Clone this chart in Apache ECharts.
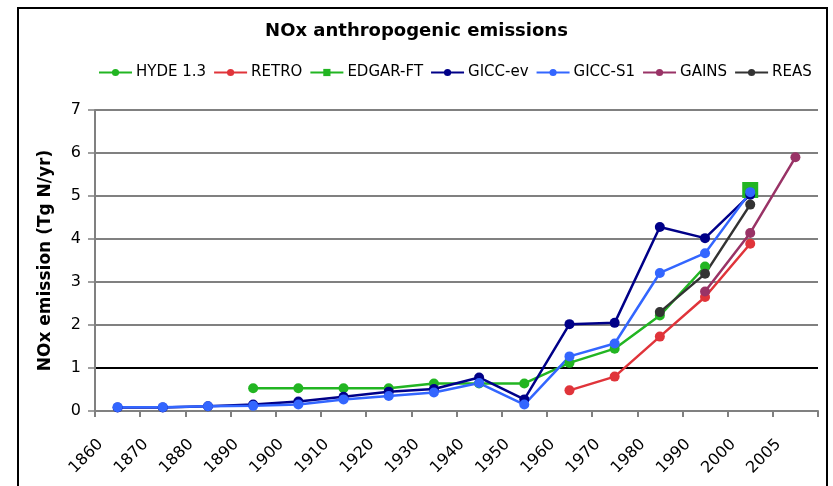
<!DOCTYPE html>
<html>
<head>
<meta charset="utf-8">
<script src="https://cdn.jsdelivr.net/npm/echarts@6/dist/echarts.min.js"></script>
<style>
  html, body { margin: 0; padding: 0; background: #fff; }
  #chart { width: 833px; height: 486px; }
</style>
</head>
<body>
<div id="chart"></div>
<script>
const years = ['1860', '1870', '1880', '1890', '1900', '1910', '1920', '1930',
  '1940', '1950', '1960', '1970', '1980', '1990', '2000', '2005']

const hyde = [null, null, null, 0.53, 0.53, 0.53, 0.53, 0.64, 0.64, 0.64, 1.12, 1.45, 2.22, 3.36, null, null]
const retro = [null, null, null, null, null, null, null, null, null, null, 0.48, 0.80, 1.73, 2.65, 3.89, null]
const edgar = [null, null, null, null, null, null, null, null, null, null, null, null, null, null, 5.14, null]
const giccEv = [0.08, 0.08, 0.11, 0.15, 0.22, 0.33, 0.45, 0.51, 0.78, 0.27, 2.02, 2.05, 4.28, 4.02, 5.03, null]
const giccS1 = [0.09, 0.09, 0.11, 0.12, 0.15, 0.27, 0.35, 0.43, 0.65, 0.15, 1.27, 1.57, 3.21, 3.67, 5.09, null]
const gains = [null, null, null, null, null, null, null, null, null, null, null, null, null, 2.78, 4.14, 5.90]
const reas = [null, null, null, null, null, null, null, null, null, null, null, null, 2.30, 3.19, 4.80, null]

const font = '"DejaVu Sans", Verdana, sans-serif'
const grey = '#808080'

const chart = echarts.init(document.getElementById('chart'))

const mkLine = (name, data, color, symbol, size) => ({
  name,
  type: 'line',
  data,
  symbol: symbol || 'circle',
  symbolSize: size || 10,
  showSymbol: true,
  lineStyle: { width: 2.5, color },
  itemStyle: { color },
  animation: false
})

chart.setOption({
  backgroundColor: '#fff',
  title: {
    text: 'NOx anthropogenic emissions',
    left: 'center',
    top: 17,
    textStyle: { fontFamily: font, fontSize: 18, fontWeight: 'bold', color: '#000' }
  },
  legend: {
    top: 60,
    left: 93,
    itemGap: 7,
    itemWidth: 33,
    itemHeight: 9,
    textStyle: { fontFamily: font, fontSize: 15, color: '#000', padding: [0, 0, 0, -1] },
    data: ['HYDE 1.3', 'RETRO', 'EDGAR-FT', 'GICC-ev', 'GICC-S1', 'GAINS', 'REAS']
  },
  graphic: [{
    type: 'rect',
    shape: { x: 18, y: 8, width: 809, height: 500 },
    style: { fill: null, stroke: '#000', lineWidth: 2 },
    silent: true
  }],
  grid: { left: 95, right: 15, top: 110, bottom: 75 },
  xAxis: {
    type: 'category',
    data: years,
    boundaryGap: true,
    axisLine: { lineStyle: { color: grey, width: 2 } },
    axisTick: { show: true, length: 6, lineStyle: { color: grey, width: 2 } },
    axisLabel: {
      rotate: 45,
      margin: 14,
      padding: [0, 24, 0, 0],
      fontFamily: font,
      fontSize: 16,
      color: '#000'
    }
  },
  yAxis: {
    type: 'value',
    min: 0,
    max: 7,
    interval: 1,
    name: 'NOx emission (Tg N/yr)',
    nameLocation: 'middle',
    nameGap: 41,
    nameTextStyle: { fontFamily: font, fontSize: 17, fontWeight: 'bold', color: '#000' },
    axisLine: { show: true, lineStyle: { color: grey, width: 2 } },
    axisTick: { show: true, length: 7, lineStyle: { color: grey, width: 1.5 } },
    axisLabel: { margin: 14, fontFamily: font, fontSize: 16, color: '#000' },
    splitLine: {
      lineStyle: {
        color: [grey, '#000', grey, grey, grey, grey, grey, grey],
        width: 2
      }
    }
  },
  series: [
    mkLine('HYDE 1.3', hyde, '#22b522'),
    mkLine('RETRO', retro, '#e0343a'),
    mkLine('EDGAR-FT', edgar, '#22b522', 'rect', 16),
    mkLine('GICC-ev', giccEv, '#000088'),
    mkLine('GICC-S1', giccS1, '#3366ff'),
    mkLine('GAINS', gains, '#993366'),
    mkLine('REAS', reas, '#333333')
  ]
})
</script>
</body>
</html>
